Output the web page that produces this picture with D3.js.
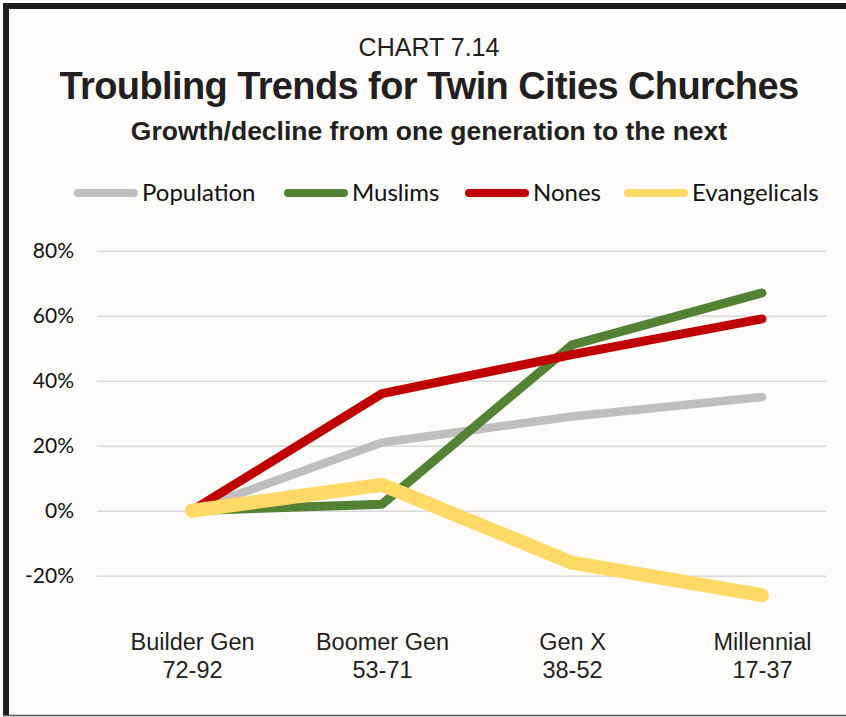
<!DOCTYPE html>
<html>
<head>
<meta charset="utf-8">
<script src="https://cdn.jsdelivr.net/npm/d3@7"></script>
<style>
  body { margin: 0; background: #fdfcfa; }
  svg { display: block; }
</style>
</head>
<body>
<div id="chart"></div>
<script>
// Data
const generations = ["Builder Gen", "Boomer Gen", "Gen X", "Millennial"];
const genYears = ["72-92", "53-71", "38-52", "17-37"];
const seriesNames = ["Population", "Muslims", "Nones", "Evangelicals"];
const population = [0, 21, 29, 35];
const muslims = [0, 2, 51, 67];
const nones = [0, 36, 48, 59];
const evangelicals = [0, 8, -16, -26];
const yTicks = [-20, 0, 20, 40, 60, 80];

const colors = ["#bfbfbf", "#548235", "#c00000", "#ffd966"];
const widths = [8.5, 9, 9, 14];

const width = 846;
const height = 717;

const svg = d3.select("#chart")
    .append("svg")
    .attr("width", width)
    .attr("height", height);

svg.append("rect")
    .attr("width", width).attr("height", height)
    .attr("fill", "#fdfcfa");

// Frame
svg.append("rect").attr("x", 3).attr("y", 3).attr("width", 6).attr("height", 712).attr("fill", "#1e1e1e");
svg.append("rect").attr("x", 3).attr("y", 3).attr("width", 843).attr("height", 6).attr("fill", "#1e1e1e");
svg.append("line").attr("x1", 3).attr("x2", 846).attr("y1", 715.5).attr("y2", 715.5)
    .attr("stroke", "#555").attr("stroke-width", 1.5);

// Titles
svg.append("text")
    .attr("x", 429).attr("y", 56)
    .attr("text-anchor", "middle")
    .attr("font-family", "Liberation Sans, Arial, sans-serif")
    .attr("font-size", 25)
    .attr("fill", "#231f20")
    .text("CHART 7.14");

svg.append("text")
    .attr("x", 429).attr("y", 99)
    .attr("text-anchor", "middle")
    .attr("font-family", "Liberation Sans, Arial, sans-serif")
    .attr("font-weight", "bold")
    .attr("font-size", 38)
    .attr("letter-spacing", -0.6)
    .attr("fill", "#231f20")
    .text("Troubling Trends for Twin Cities Churches");

svg.append("text")
    .attr("x", 429).attr("y", 140)
    .attr("text-anchor", "middle")
    .attr("font-family", "Liberation Sans, Arial, sans-serif")
    .attr("font-weight", "bold")
    .attr("font-size", 26.5)
    .attr("fill", "#231f20")
    .text("Growth/decline from one generation to the next");

// Scales
const xScale = d3.scalePoint()
    .domain(generations)
    .range([192, 762]);

const yScale = d3.scaleLinear()
    .domain([-20, 80])
    .range([575.7, 250.7]);

// Gridlines + y labels
const gY = svg.append("g")
    .attr("transform", "translate(97,0)")
    .call(d3.axisLeft(yScale)
        .tickValues(yTicks)
        .tickSize(-729)
        .tickPadding(23)
        .tickFormat(d => d + "%"));
gY.select(".domain").remove();
gY.selectAll(".tick line").attr("stroke", "#d9d9d9").attr("stroke-width", 1.5);
gY.selectAll(".tick text")
    .attr("font-family", "Lato, sans-serif")
    .attr("font-size", 21)
    .attr("fill", "#111");

// X labels
const gX = svg.append("g")
    .attr("transform", "translate(0,630)")
    .call(d3.axisBottom(xScale).tickSize(0).tickPadding(0));
gX.select(".domain").remove();
gX.selectAll(".tick text").remove();
gX.selectAll(".tick").each(function (d, i) {
    const t = d3.select(this).append("text")
        .attr("text-anchor", "middle")
        .attr("font-family", "Liberation Sans, Arial, sans-serif")
        .attr("font-size", 23.5)
        .attr("fill", "#231f20");
    t.append("tspan").attr("x", 0).attr("y", 20).text(d);
    t.append("tspan").attr("x", 0).attr("y", 48).text(genYears[i]);
});

// Lines
const seriesData = [population, muslims, nones, evangelicals];
const line = d3.line()
    .x((d, i) => xScale(generations[i]))
    .y(d => yScale(d));

svg.append("g").selectAll("path")
    .data(seriesData)
    .join("path")
    .attr("fill", "none")
    .attr("stroke", (d, i) => colors[i])
    .attr("stroke-width", (d, i) => widths[i])
    .attr("stroke-linecap", "round")
    .attr("stroke-linejoin", "round")
    .attr("d", line);

// Legend
const legendX = [78, 288, 469, 628];
const legend = svg.append("g").selectAll("g")
    .data(seriesNames)
    .join("g")
    .attr("transform", (d, i) => `translate(${legendX[i]},193)`);
legend.append("line")
    .attr("x1", 0).attr("x2", 56)
    .attr("stroke", (d, i) => colors[i])
    .attr("stroke-width", 8)
    .attr("stroke-linecap", "round");
legend.append("text")
    .attr("x", 64).attr("y", 8)
    .attr("font-family", "Lato, sans-serif")
    .attr("font-size", 24)
    .attr("fill", "#111")
    .text(d => d);
</script>
</body>
</html>
